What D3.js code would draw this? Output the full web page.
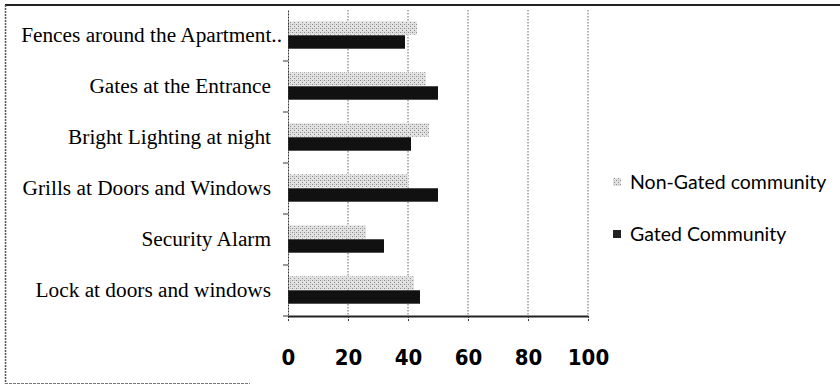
<!DOCTYPE html>
<html><head><meta charset="utf-8">
<script src="https://cdn.jsdelivr.net/npm/d3@7/dist/d3.min.js"></script>
<style>html,body{margin:0;padding:0;background:#fff;}svg{display:block;}</style>
</head><body>
<svg id="chart" width="840" height="387"></svg>
<script>
const categories = ["Fences around the Apartment..", "Gates at the Entrance", "Bright Lighting at night", "Grills at Doors and Windows", "Security Alarm", "Lock at doors and windows"];
const nonGated = [43, 46, 47, 40, 26, 42];
const gated = [39, 50, 41, 50, 32, 44];
const seriesNames = ["Non-Gated community", "Gated Community"];
const xTicks = [0, 20, 40, 60, 80, 100];

const svg = d3.select("#chart");

// pattern for non-gated bars
const defs = svg.append("defs");
const pat = defs.append("pattern").attr("id", "hatch").attr("width", 4).attr("height", 4).attr("patternUnits", "userSpaceOnUse");
pat.append("rect").attr("width", 4).attr("height", 4).attr("fill", "#e2e2e2");
pat.append("rect").attr("x", 0).attr("y", 0).attr("width", 1).attr("height", 1).attr("fill", "#8a8a8a");
pat.append("rect").attr("x", 2).attr("y", 2).attr("width", 1).attr("height", 1).attr("fill", "#8a8a8a");
pat.append("rect").attr("x", 2).attr("y", 0).attr("width", 1).attr("height", 1).attr("fill", "#bbb");

// frame
svg.append("line").attr("x1", 5).attr("x2", 840).attr("y1", 5).attr("y2", 5).attr("stroke", "#222").attr("stroke-width", 2);
svg.append("line").attr("x1", 5.5).attr("x2", 5.5).attr("y1", 5).attr("y2", 384).attr("stroke", "#555").attr("stroke-width", 1.5).attr("stroke-dasharray", "2,1");
svg.append("line").attr("x1", 5).attr("x2", 250).attr("y1", 383.5).attr("y2", 383.5).attr("stroke", "#777").attr("stroke-width", 1.2).attr("stroke-dasharray", "3,1");

const x = d3.scaleLinear().domain([0, 100]).range([288, 588]);
const y0 = d3.scaleBand().domain(categories).range([10, 316]).padding(0);
const y1 = d3.scaleBand().domain(seriesNames).range([y0.bandwidth() * 0.21, y0.bandwidth() * 0.77]).padding(0.04);

// gridlines
svg.append("g").selectAll("line").data(xTicks.slice(1)).join("line")
  .attr("x1", d => x(d)).attr("x2", d => x(d))
  .attr("y1", 10).attr("y2", 316)
  .attr("stroke", "#666").attr("stroke-width", 1).attr("stroke-dasharray", "1.5,1.5");

// bars
const g = svg.append("g");
categories.forEach((c, i) => {
  g.append("rect").attr("x", x(0)).attr("y", y0(c) + y1(seriesNames[0]))
    .attr("width", x(nonGated[i]) - x(0)).attr("height", y1.bandwidth())
    .attr("fill", "url(#hatch)");
  g.append("rect").attr("x", x(0)).attr("y", y0(c) + y1(seriesNames[1]))
    .attr("width", x(gated[i]) - x(0)).attr("height", y1.bandwidth())
    .attr("fill", "#111");
});

// y axis
const yAxis = d3.axisLeft(y0).tickSize(0).tickPadding(17).tickSizeOuter(0);
const ya = svg.append("g").attr("transform", `translate(${x(0)},0)`).call(yAxis);
ya.select(".domain").attr("stroke", "#333").attr("stroke-dasharray", "2,1");
ya.selectAll("text").attr("font-family", "'Liberation Serif','Times New Roman',serif").attr("font-size", 21.3).attr("fill", "#000");
ya.selectAll(".tick").filter((d, i) => i === 0).select("text").attr("dx", 11);
// category boundary ticks
svg.append("g").selectAll("line").data(categories).join("line")
  .attr("x1", x(0) - 5).attr("x2", x(0))
  .attr("y1", d => y0(d) + y0.bandwidth()).attr("y2", d => y0(d) + y0.bandwidth())
  .attr("stroke", "#333");

// x axis
const xAxis = d3.axisBottom(x).tickValues(xTicks).tickSize(6).tickPadding(27).tickSizeOuter(0);
const xa = svg.append("g").attr("transform", "translate(0,316)").call(xAxis);
xa.select(".domain").attr("stroke", "#222").attr("stroke-width", 1.8);
xa.selectAll(".tick line").attr("stroke", "#333").attr("stroke-dasharray", "2,1");
xa.selectAll("text").attr("font-family", "'Liberation Sans Narrow','DejaVu Sans Condensed',sans-serif").attr("font-weight", "bold").attr("font-size", 22).attr("fill", "#000");

// legend
const lg = svg.append("g");
const legY = [182, 234];
seriesNames.forEach((s, i) => {
  lg.append("rect").attr("x", 613).attr("y", legY[i] - 4).attr("width", 8).attr("height", 8)
    .attr("fill", i === 0 ? "url(#hatch)" : "#222");
  lg.append("text").attr("x", 630).attr("y", legY[i]).attr("dy", "0.35em")
    .attr("font-family", "Lato, 'Open Sans', sans-serif").attr("font-size", 19.5).attr("fill", "#000").text(s);
});
</script>
</body></html>
